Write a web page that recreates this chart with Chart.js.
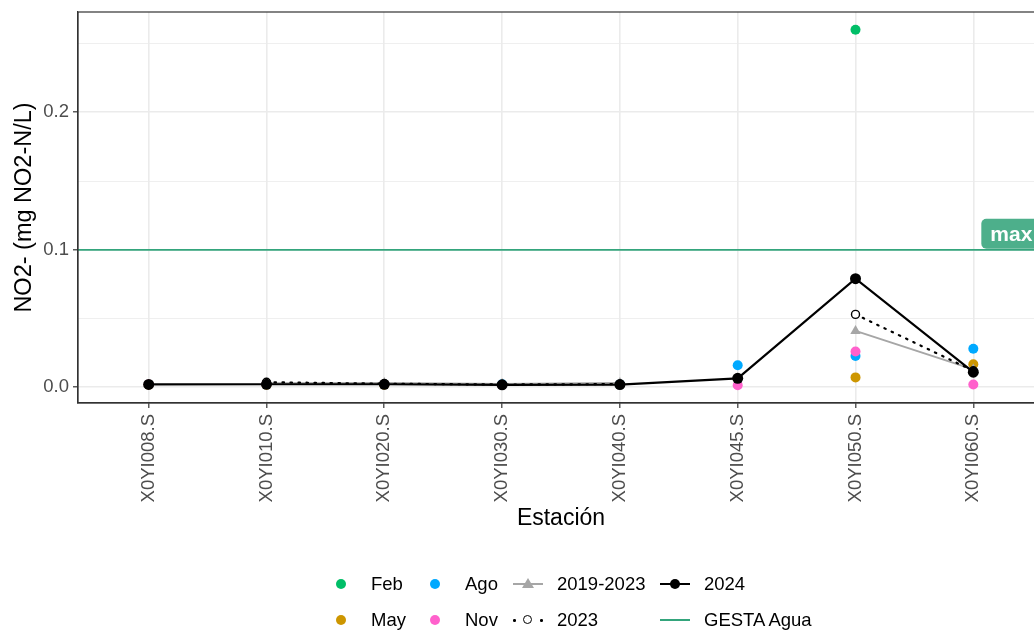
<!DOCTYPE html>
<html>
<head>
<meta charset="utf-8">
<script src="https://cdn.jsdelivr.net/npm/chart.js@4.4.1/dist/chart.umd.min.js"></script>
<style>
  body { margin: 0; background: #fff; font-family: "Liberation Sans", Arial, sans-serif; }
  #wrap { position: relative; width: 1034px; height: 630px; overflow: hidden; background: #fff; }
  #chart { position: absolute; left: 0; top: 0; }
  .leg { position: absolute; font-size: 18.5px; color: #000; line-height: 20px; }
  .dot { position: absolute; width: 10px; height: 10px; border-radius: 50%; }
  .seg { position: absolute; height: 0; }
</style>
</head>
<body>
<div id="wrap">
  <canvas id="chart" width="1050" height="630"></canvas>
  <div id="legend"></div>
</div>
<script>
// Stations (x axis categories)
const stations = ['X0YI008.S', 'X0YI010.S', 'X0YI020.S', 'X0YI030.S', 'X0YI040.S', 'X0YI045.S', 'X0YI050.S', 'X0YI060.S'];

// Monthly samples 2024 (mg NO2-N/L)
const feb = [null, null, null, null, null, null, 0.260, null];
const may = [0.0018, 0.0018, 0.0018, null, null, null, 0.0072, 0.0167];
const ago = [null, null, null, 0.0022, 0.0021, 0.016, 0.0227, 0.028];
const nov = [0.0020, 0.0024, null, 0.0017, null, 0.0015, 0.026, 0.0020];

// Yearly means
const mean2024 = [0.0021, 0.0022, 0.0022, 0.0018, 0.0020, 0.0065, 0.079, 0.011];
const mean2023 = [null, 0.0037, 0.0026, 0.0020, 0.0023, null, 0.053, 0.012];
const mean2019_2023 = [null, 0.0030, 0.0031, 0.0024, 0.0031, null, 0.041, 0.013];

// GESTA Agua limit
const gestaLimit = 0.1;
const gestaLabel = 'max';

// y axis ticks (major labelled, minor only grid)
const yTicks = [0, 0.05, 0.1, 0.15, 0.2, 0.25];

const FONT = '"Liberation Sans", Arial, sans-serif';
const colors = { feb: '#00BE67', may: '#CD9600', ago: '#00A9FF', nov: '#FF61CC', gesta: '#34A57C', grey: '#A6A6A6' };

const toPts = arr => arr.map((v, i) => ({ x: i, y: v }));

const allVals = [feb, may, ago, nov, mean2024, mean2023, mean2019_2023].flat().filter(v => v != null);
const lo = Math.min(...allVals), hi = Math.max(...allVals);
const yMin = lo - (hi - lo) * 0.05;
const yMax = hi + (hi - lo) * 0.05;

const isMajor = v => Math.abs(v * 10 - Math.round(v * 10)) < 1e-9;

const panelPlugin = {
  id: 'panel',
  beforeDatasetsDraw(chart) {
    const { ctx, chartArea, scales } = chart;
    const y = scales.y.getPixelForValue(gestaLimit);
    ctx.save();
    ctx.strokeStyle = colors.gesta;
    ctx.lineWidth = 1.8;
    ctx.beginPath();
    ctx.moveTo(chartArea.left, y);
    ctx.lineTo(chartArea.right, y);
    ctx.stroke();
    ctx.restore();
  },
  afterDatasetsDraw(chart) {
    const { ctx, chartArea, scales } = chart;
    ctx.save();
    // panel border
    ctx.strokeStyle = '#333333';
    ctx.lineWidth = 1.2;
    ctx.strokeRect(chartArea.left, chartArea.top, chartArea.right - chartArea.left, chartArea.bottom - chartArea.top);
    // "max" label
    const x0 = scales.x.getPixelForValue(stations.length - 1) + 8;
    const yb = scales.y.getPixelForValue(gestaLimit) - 1;
    const h = 30, w = 80, r = 5;
    ctx.fillStyle = '#4DAF8B';
    ctx.beginPath();
    ctx.roundRect(x0, yb - h, w, h, r);
    ctx.fill();
    ctx.fillStyle = '#ffffff';
    ctx.font = 'bold 21px ' + FONT;
    ctx.textBaseline = 'middle';
    ctx.textAlign = 'left';
    ctx.fillText(gestaLabel, x0 + 9, yb - h / 2 + 1);
    ctx.restore();
  }
};

const monthSet = (label, data, color) => ({
  label, data: toPts(data), showLine: false,
  pointRadius: 5, pointBackgroundColor: color, pointBorderWidth: 0, pointBorderColor: color
});

new Chart(document.getElementById('chart'), {
  type: 'line',
  data: {
    datasets: [
      {
        label: '2024', data: toPts(mean2024), borderColor: '#000', borderWidth: 2.2,
        pointRadius: 5.5, pointBackgroundColor: '#000', pointBorderWidth: 0
      },
      {
        label: '2023', data: toPts(mean2023), borderColor: '#000', borderWidth: 2.2,
        borderDash: [1.5, 6.5], borderCapStyle: 'round',
        pointRadius: 4, pointBackgroundColor: '#fff', pointBorderColor: '#000', pointBorderWidth: 1.4
      },
      {
        label: '2019-2023', data: toPts(mean2019_2023), borderColor: colors.grey, borderWidth: 2,
        pointStyle: 'triangle', pointRadius: 6, pointBackgroundColor: colors.grey, pointBorderWidth: 0
      },
      monthSet('Nov', nov, colors.nov),
      monthSet('Ago', ago, colors.ago),
      monthSet('May', may, colors.may),
      monthSet('Feb', feb, colors.feb)
    ]
  },
  options: {
    responsive: false,
    animation: false,
    layout: { padding: { top: 12, right: 4, left: 0, bottom: 97 } },
    plugins: { legend: { display: false }, tooltip: { enabled: false } },
    scales: {
      x: {
        type: 'linear',
        min: -0.6,
        max: stations.length - 1 + 0.6,
        afterBuildTicks: axis => { axis.ticks = stations.map((s, i) => ({ value: i })); },
        afterFit: axis => {
          axis.height = 130;
          axis.paddingLeft = 0; axis.paddingRight = 0;
        },
        ticks: {
          callback: v => stations[v] ?? '',
          minRotation: 90, maxRotation: 90, autoSkip: false,
          color: '#4D4D4D', font: { family: FONT, size: 18.5 }, padding: 6
        },
        grid: { color: '#EBEBEB', lineWidth: 1.6, tickColor: '#333333', tickLength: 5, tickWidth: 1.2 },
        border: { color: '#333333', width: 1.2 },
        title: { display: true, text: 'Estación', color: '#000', font: { family: FONT, size: 23 }, padding: { top: 4, bottom: 1 } }
      },
      y: {
        min: yMin,
        max: yMax,
        afterBuildTicks: axis => { axis.ticks = yTicks.map(v => ({ value: v })); },
        afterFit: axis => {
          axis.width = 78;
          axis.paddingTop = 0; axis.paddingBottom = 0;
        },
        ticks: {
          callback: v => isMajor(v) ? v.toFixed(1) : '',
          color: '#4D4D4D', font: { family: FONT, size: 18.5 }, padding: 4
        },
        grid: {
          color: '#EBEBEB',
          lineWidth: ctx => isMajor(ctx.tick.value) ? 1.6 : 0.8,
          tickColor: ctx => isMajor(ctx.tick.value) ? '#333333' : 'rgba(0,0,0,0)',
          tickLength: 5, tickWidth: 1.2
        },
        border: { color: '#333333', width: 1.2 },
        title: { display: true, text: 'NO2- (mg NO2-N/L)', color: '#000', font: { family: FONT, size: 23.5 }, padding: { top: 10, bottom: 0 } }
      }
    }
  },
  plugins: [panelPlugin]
});

// Legend (ggplot-style, two rows)
const legendItems = [
  { text: 'Feb', kind: 'dot', color: colors.feb, col: 0, row: 0 },
  { text: 'May', kind: 'dot', color: colors.may, col: 0, row: 1 },
  { text: 'Ago', kind: 'dot', color: colors.ago, col: 1, row: 0 },
  { text: 'Nov', kind: 'dot', color: colors.nov, col: 1, row: 1 },
  { text: '2019-2023', kind: 'tri', color: colors.grey, col: 2, row: 0 },
  { text: '2023', kind: 'dotted', color: '#000', col: 2, row: 1 },
  { text: '2024', kind: 'solid', color: '#000', col: 3, row: 0 },
  { text: 'GESTA Agua', kind: 'gesta', color: colors.gesta, col: 3, row: 1 }
];
const colX = [341, 435, 513, 660];
const rowY = [584, 620];
const leg = document.getElementById('legend');
legendItems.forEach(it => {
  const cy = rowY[it.row];
  const x = colX[it.col];
  let html = '';
  let textX;
  if (it.kind === 'dot') {
    html += `<div class="dot" style="left:${x - 5}px;top:${cy - 5}px;background:${it.color}"></div>`;
    textX = x + 30;
  } else {
    const cx = x + 15;
    if (it.kind === 'dotted') {
      html += `<div class="dot" style="left:${x}px;top:${cy - 1}px;width:2.5px;height:2.5px;background:#000"></div>`;
      html += `<div class="dot" style="left:${x + 27}px;top:${cy - 1}px;width:2.5px;height:2.5px;background:#000"></div>`;
      html += `<div style="position:absolute;left:${cx - 5}px;top:${cy - 5}px;width:7px;height:7px;border:1.5px solid #000;border-radius:50%;background:#fff"></div>`;
    } else {
      html += `<div class="seg" style="left:${x}px;top:${cy - 1}px;width:30px;border-top:2px solid ${it.color}"></div>`;
      if (it.kind === 'tri') {
        html += `<div style="position:absolute;left:${cx - 6}px;top:${cy - 6}px;width:0;height:0;border-left:6px solid transparent;border-right:6px solid transparent;border-bottom:10px solid ${it.color}"></div>`;
      } else if (it.kind === 'solid') {
        html += `<div class="dot" style="left:${cx - 5}px;top:${cy - 5}px;background:#000"></div>`;
      }
    }
    textX = x + 44;
  }
  html += `<div class="leg" style="left:${textX}px;top:${cy - 10}px">${it.text}</div>`;
  leg.insertAdjacentHTML('beforeend', html);
});
</script>
</body>
</html>
